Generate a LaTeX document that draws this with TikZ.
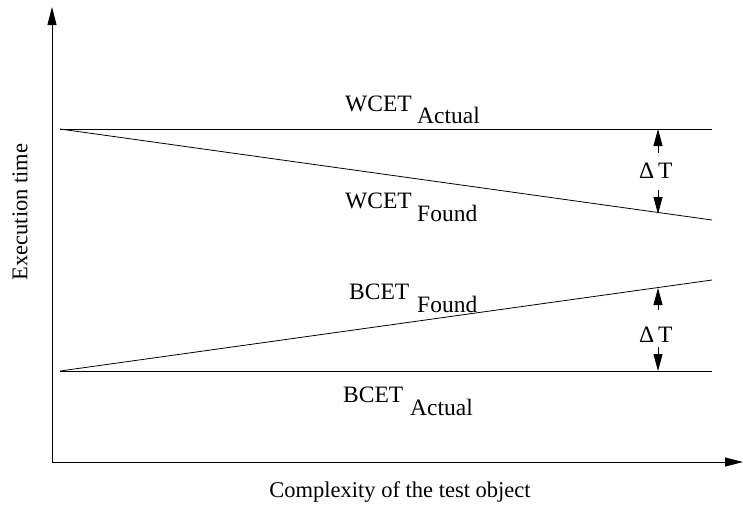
\documentclass[tikz,border=0pt]{standalone}
\usepackage{fontspec}
\setmainfont{Liberation Serif}
\usetikzlibrary{arrows.meta}
\begin{document}
\begin{tikzpicture}[x=1pt,y=-1pt,
  every node/.style={inner sep=0pt,font=\fontsize{22.5}{26}\selectfont},
  lbl/.style={anchor=base west,font=\fontsize{23.5}{27}\selectfont},
  axis/.style={line width=0.9pt,-{Triangle[width=9pt,length=18pt]}},
  curve/.style={line width=0.8pt},
  gap/.style={line width=0.8pt,-{Triangle[width=9pt,length=17pt]}}]
\useasboundingbox (0,0) rectangle (743,507);
% axes
\coordinate (O) at (52,462);
\coordinate (ytop) at (52,7);
\coordinate (xend) at (743,462);
\draw[axis] (O) -- (ytop);
\draw[axis] (O) -- (xend);
% bound lines
\coordinate (wa0) at (60,129);  \coordinate (wa1) at (712,129);
\coordinate (wf1) at (712,220);
\coordinate (ba0) at (60,371);  \coordinate (ba1) at (712,371);
\coordinate (bf1) at (712,280);
\draw[curve] (wa0) -- (wa1);
\draw[curve] (wa0) -- (wf1);
\draw[curve] (ba0) -- (ba1);
\draw[curve] (ba0) -- (bf1);
% labels
\node[lbl] (wcetA) at (345,111) {WCET};
\node[lbl] (wcetAs) at (417,123) {Actual};
\node[lbl] (wcetF) at (345,208) {WCET};
\node[lbl] (wcetFs) at (417,221) {Found};
\node[lbl] (bcetF) at (349,299) {BCET};
\node[lbl] (bcetFs) at (417,312) {Found};
\node[lbl] (bcetA) at (343,402) {BCET};
\node[lbl] (bcetAs) at (410,415) {Actual};
% delta markers
\node[lbl] (dt1) at (639,178) {Δ\,T};
\node[lbl] (dt2) at (639,342) {Δ\,T};
\coordinate (u1a) at (658,153); \coordinate (u1b) at (658,129);
\coordinate (d1a) at (658,190); \coordinate (d1b) at (658,214);
\coordinate (u2a) at (658,310); \coordinate (u2b) at (658,288);
\coordinate (d2a) at (658,347); \coordinate (d2b) at (658,371);
\draw[gap] (u1a) -- (u1b);
\draw[gap] (d1a) -- (d1b);
\draw[gap] (u2a) -- (u2b);
\draw[gap] (d2a) -- (d2b);
% axis titles
\node (xt) at (400,492) {Complexity of the test object};
\node[rotate=90] (yt) at (20,212) {Execution time};
\end{tikzpicture}
\end{document}
